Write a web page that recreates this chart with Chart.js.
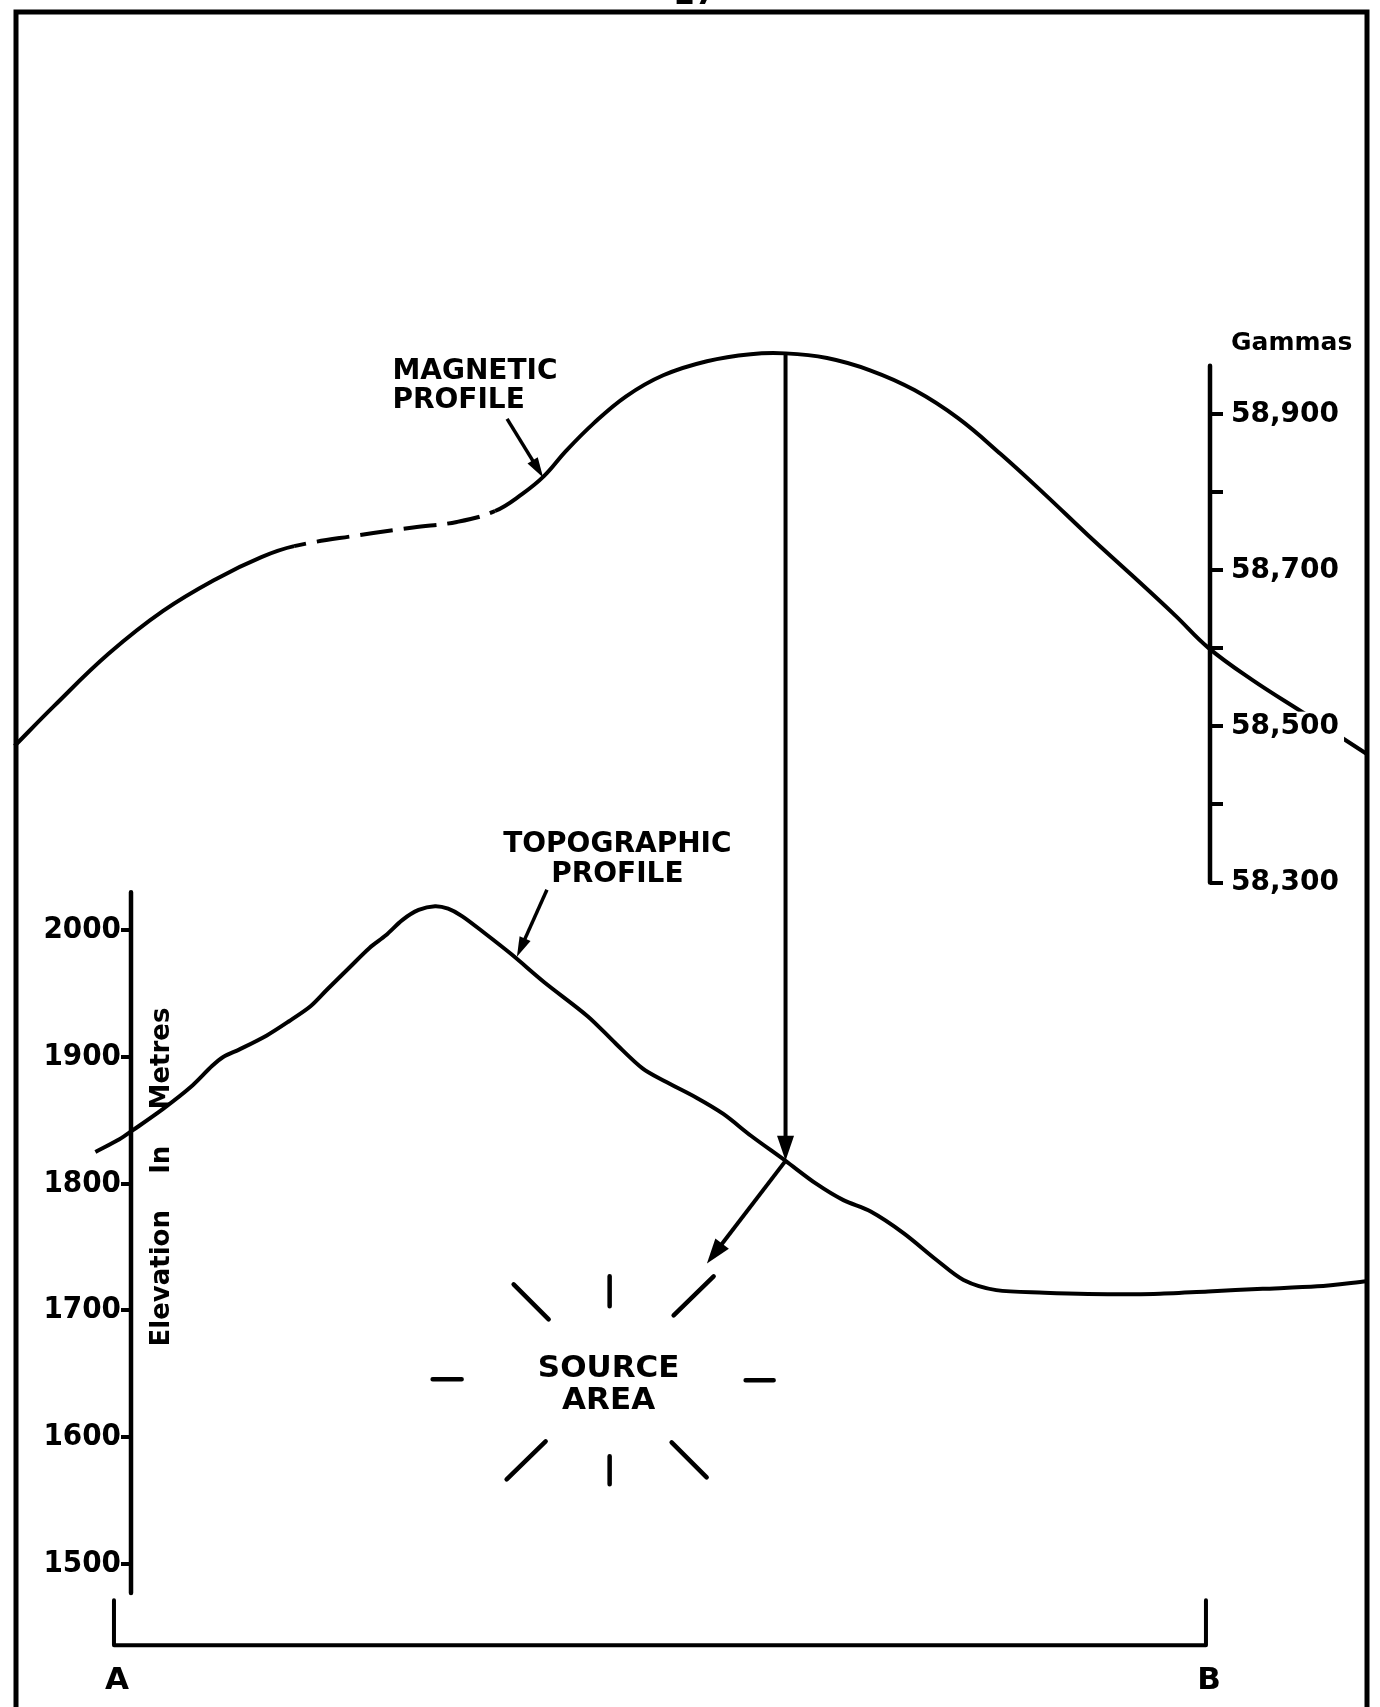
<!DOCTYPE html>
<html>
<head>
<meta charset="utf-8">
<title>Magnetic and topographic profile A-B</title>
<script src="https://cdn.jsdelivr.net/npm/chart.js@4.4.1/dist/chart.umd.min.js"></script>
<style>
  html, body { margin: 0; padding: 0; background: #fff; }
  #wrap { width: 1380px; height: 1707px; }
</style>
</head>
<body>
<div id="wrap"><canvas id="profile" width="1380" height="1707"></canvas></div>
<script>
// Distance along the section, A = 0, B = 100
const magDistance = [-9.1, -5.5, -0.5, 4.5, 9.5, 13.5, 16.5, 22.4, 27.4, 31.4, 34.9, 37.4, 39.4, 41.4, 43.9, 46.9,
  50.3, 54.3, 58.3, 61.5, 65.3, 69.3, 73.3, 77.3, 81.2, 85.2, 89.2, 93.2, 97.2, 100.2, 104.2, 109.2, 114.7];
const magGammas = [58475, 58526, 58593, 58648, 58690, 58717, 58731, 58745, 58755, 58762, 58776, 58798, 58821, 58853,
  58888, 58923, 58950, 58968, 58977, 58978, 58972, 58956, 58931, 58895, 58849, 58798, 58745, 58694, 58642, 58601,
  58560, 58515, 58465];
// stretch of the magnetic profile drawn dashed
const magDashed = [16.5, 34.9];

const topoDistance = [-1.7, 0.5, 1.7, 4.5, 7.0, 9.0, 10.0, 11.5, 14.0, 16.0, 18.0, 19.5, 21.5, 23.4, 24.9, 26.4,
  27.9, 29.4, 30.6, 31.9, 33.9, 36.4, 39.4, 43.4, 45.9, 48.4, 50.4, 53.3, 55.8, 58.3, 61.5, 64.3, 66.8, 69.3, 72.3,
  75.3, 77.8, 80.8, 85.2, 89.2, 95.2, 100.2, 105.2, 110.2, 114.7];
const topoElevation = [1825, 1835, 1842, 1859, 1876, 1893, 1900, 1906, 1917, 1928, 1940, 1953, 1970, 1986, 1996,
  2008, 2016, 2019, 2017, 2011, 1998, 1981, 1959, 1932, 1911, 1891, 1881, 1868, 1855, 1838, 1818, 1800, 1787, 1778,
  1761, 1740, 1724, 1716, 1714, 1713, 1713, 1715, 1717, 1719, 1723];

// Axes
const elevTicks = [1500, 1600, 1700, 1800, 1900, 2000];
const elevAxisSpan = [1477, 2030];
const gammaTicks = [58300, 58400, 58500, 58600, 58700, 58800, 58900];
const gammaLabels = [58300, 58500, 58700, 58900];
const gammaAxisSpan = [58300, 58962];
const sectionEnds = [0, 100];
const sectionNames = ['A', 'B'];

// Annotations (data coordinates)
const sourceArrowTip = { x: 54.3, elev: 1737 };
const sourceArea = { x: 45.3, elev: 1644 };
const magNote = { x: 25.5, gamma: 58945, lines: ['MAGNETIC', 'PROFILE'] };
const magPointer = { fromX: 36.0, fromGamma: 58894, toX: 39.3, toGamma: 58819 };
const topoNote = { x: 46.1, elev: 2062, lines: ['TOPOGRAPHIC', 'PROFILE'] };
const topoPointer = { fromX: 39.65, fromElev: 2032, toX: 36.9, toElev: 1979 };
const gammaTitle = { x: 102.3, gamma: 58982, text: 'Gammas' };
const elevTitle = 'Elevation    In    Metres';

const INK = '#000';
const BOLD = "'DejaVu Sans', sans-serif";
const NARROW = "'Liberation Sans Narrow', 'DejaVu Sans Condensed', sans-serif";

function topoAt(d) {
  for (let i = 1; i < topoDistance.length; i++) {
    if (d <= topoDistance[i]) {
      const t = (d - topoDistance[i - 1]) / (topoDistance[i] - topoDistance[i - 1]);
      return topoElevation[i - 1] + t * (topoElevation[i] - topoElevation[i - 1]);
    }
  }
  return topoElevation[topoElevation.length - 1];
}

// line with a filled head at (x2, y2)
function arrow(ctx, x1, y1, x2, y2, len, wid) {
  const a = Math.atan2(y2 - y1, x2 - x1);
  const bx = x2 - len * Math.cos(a);
  const by = y2 - len * Math.sin(a);
  ctx.beginPath();
  ctx.moveTo(x1, y1);
  ctx.lineTo(bx + Math.cos(a) * 2, by + Math.sin(a) * 2);
  ctx.stroke();
  ctx.beginPath();
  ctx.moveTo(x2, y2);
  ctx.lineTo(bx + (wid / 2) * Math.sin(a), by - (wid / 2) * Math.cos(a));
  ctx.lineTo(bx - (wid / 2) * Math.sin(a), by + (wid / 2) * Math.cos(a));
  ctx.closePath();
  ctx.fill();
}

const figurePlugin = {
  id: 'figure',
  beforeDraw(chart) {
    const { ctx, width, height } = chart;
    ctx.save();
    ctx.fillStyle = '#fff';
    ctx.fillRect(0, 0, width, height);
    ctx.restore();
  },
  afterDraw(chart) {
    const { ctx, chartArea, scales: { x, yElev, yGam } } = chart;
    const px = (v) => x.getPixelForValue(v);
    ctx.save();
    ctx.strokeStyle = INK;
    ctx.fillStyle = INK;
    ctx.lineCap = 'round';

    // page frame and page number
    ctx.lineWidth = 5;
    ctx.beginPath();
    ctx.moveTo(16, 1707);
    ctx.lineTo(16, 12);
    ctx.lineTo(1367, 12);
    ctx.lineTo(1367, 1707);
    ctx.stroke();
    ctx.font = `bold 30px ${BOLD}`;
    ctx.textAlign = 'center';
    ctx.textBaseline = 'alphabetic';
    ctx.fillText('27', 695, 4);

    // axis lines (only over their own span)
    ctx.lineWidth = 4.5;
    ctx.beginPath();
    ctx.moveTo(yElev.right, yElev.getPixelForValue(elevAxisSpan[1]));
    ctx.lineTo(yElev.right, yElev.getPixelForValue(elevAxisSpan[0]));
    ctx.moveTo(yGam.left, yGam.getPixelForValue(gammaAxisSpan[1]));
    ctx.lineTo(yGam.left, yGam.getPixelForValue(gammaAxisSpan[0]));
    ctx.stroke();

    // A - B bar
    const barY = chartArea.bottom - 37;
    ctx.lineWidth = 4;
    ctx.beginPath();
    ctx.moveTo(px(sectionEnds[0]), barY);
    ctx.lineTo(px(sectionEnds[1]), barY);
    sectionEnds.forEach((d) => {
      ctx.moveTo(px(d), barY);
      ctx.lineTo(px(d), barY - 45);
    });
    ctx.stroke();
    ctx.font = `bold 31px ${BOLD}`;
    sectionEnds.forEach((d, i) => ctx.fillText(sectionNames[i], px(d) + 3, barY + 44));

    // axis titles
    ctx.font = `bold 25px ${BOLD}`;
    ctx.textAlign = 'left';
    ctx.fillText(gammaTitle.text, px(gammaTitle.x), yGam.getPixelForValue(gammaTitle.gamma));
    ctx.save();
    ctx.translate(yElev.right + 38, (yElev.getPixelForValue(1800) + yElev.getPixelForValue(1700)) / 2 - 70);
    ctx.rotate(-Math.PI / 2);
    ctx.font = `bold 26px ${BOLD}`;
    ctx.textAlign = 'center';
    ctx.fillText(elevTitle, 0, 0);
    ctx.restore();

    // profile labels
    ctx.font = `bold 28px ${BOLD}`;
    ctx.textAlign = 'left';
    magNote.lines.forEach((t, i) =>
      ctx.fillText(t, px(magNote.x), yGam.getPixelForValue(magNote.gamma) + i * 29));
    ctx.textAlign = 'center';
    topoNote.lines.forEach((t, i) =>
      ctx.fillText(t, px(topoNote.x), yElev.getPixelForValue(topoNote.elev) + i * 30));

    ctx.lineWidth = 3.5;
    ctx.lineCap = 'butt';
    arrow(ctx, px(magPointer.fromX), yGam.getPixelForValue(magPointer.fromGamma),
      px(magPointer.toX), yGam.getPixelForValue(magPointer.toGamma), 20, 12);
    arrow(ctx, px(topoPointer.fromX), yElev.getPixelForValue(topoPointer.fromElev),
      px(topoPointer.toX), yElev.getPixelForValue(topoPointer.toElev), 20, 12);

    // peak of the magnetic profile projected down to the surface, then to the source
    const peak = magGammas.indexOf(Math.max(...magGammas));
    const peakX = px(magDistance[peak]);
    const hitY = yElev.getPixelForValue(topoAt(magDistance[peak]));
    ctx.lineWidth = 4;
    arrow(ctx, peakX, yGam.getPixelForValue(magGammas[peak]), peakX, hitY, 25, 17);
    arrow(ctx, peakX, hitY, px(sourceArrowTip.x), yElev.getPixelForValue(sourceArrowTip.elev), 25, 17);

    // source area
    const cx = px(sourceArea.x);
    const cy = yElev.getPixelForValue(sourceArea.elev);
    ctx.font = `bold 31px ${BOLD}`;
    ctx.fillText('SOURCE', cx, cy - 4);
    ctx.fillText('AREA', cx, cy + 28);
    const rays = [[1, -105, 1, -75], [1, 75, 1, 103], [-176, -2, -147, -2], [137, -1, 165, -1],
      [-95, -97, -60, -62], [105, -105, 65, -66], [-63, 60, -102, 98], [63, 61, 98, 96]];
    ctx.lineWidth = 4.5;
    ctx.lineCap = 'round';
    ctx.beginPath();
    rays.forEach(([a, b, c, d]) => {
      ctx.moveTo(cx + a, cy + b);
      ctx.lineTo(cx + c, cy + d);
    });
    ctx.stroke();
    ctx.restore();
  }
};

const inDashed = (c) => c.p0.parsed.x >= magDashed[0] && c.p1.parsed.x <= magDashed[1];

const ctx = document.getElementById('profile').getContext('2d');
new Chart(ctx, {
  type: 'line',
  data: {
    datasets: [
      {
        label: 'Magnetic profile',
        data: magDistance.map((d, i) => ({ x: d, y: magGammas[i] })),
        yAxisID: 'yGam',
        borderColor: INK,
        borderWidth: 4,
        pointRadius: 0,
        tension: 0.4,
        clip: false,
        segment: {
          borderDash: (c) => (inDashed(c) ? [33, 11] : undefined),
          borderDashOffset: (c) => (inDashed(c) ? 21 : undefined)
        }
      },
      {
        label: 'Topographic profile',
        data: topoDistance.map((d, i) => ({ x: d, y: topoElevation[i] })),
        yAxisID: 'yElev',
        borderColor: INK,
        borderWidth: 4,
        pointRadius: 0,
        tension: 0.3,
        clip: false
      }
    ]
  },
  options: {
    responsive: false,
    animation: false,
    devicePixelRatio: 1,
    layout: { padding: { top: 20, bottom: 20, left: 0, right: 0 }, autoPadding: false },
    plugins: { legend: { display: false }, tooltip: { enabled: false } },
    scales: {
      // range set after data limits so the profiles keep their ends beyond the axes
      x: {
        type: 'linear',
        display: false,
        bounds: 'data',
        afterDataLimits: (s) => { s.min = 1.56; s.max = 100.37; }
      },
      yElev: {
        type: 'linear',
        position: 'left',
        min: 1406.6,
        max: 2714.5,
        afterBuildTicks: (s) => { s.ticks = elevTicks.map((v) => ({ value: v })); },
        afterFit: (s) => { s.width = 131; },
        border: { display: false },
        grid: { drawOnChartArea: false, drawTicks: true, tickLength: 10, lineWidth: 4, color: INK },
        ticks: {
          color: INK,
          padding: 0,
          font: { family: NARROW, weight: 'bold', size: 31 },
          callback: (v) => String(v)
        }
      },
      yGam: {
        type: 'linear',
        position: 'right',
        min: 57275.4,
        max: 59399,
        afterBuildTicks: (s) => { s.ticks = gammaTicks.map((v) => ({ value: v })); },
        afterFit: (s) => { s.width = 170; },
        border: { display: false },
        grid: { drawOnChartArea: false, drawTicks: true, tickLength: 13, lineWidth: 4, color: INK },
        ticks: {
          z: 1,
          color: INK,
          padding: 8,
          font: { family: BOLD, weight: 'bold', size: 28 },
          // white box behind the labelled values, where the profile runs into them
          showLabelBackdrop: (c) => gammaLabels.includes(c.tick.value),
          backdropColor: '#fff',
          backdropPadding: { top: -2, bottom: 0, left: 0, right: 5 },
          callback: (v) => (gammaLabels.includes(v) ? v.toLocaleString('en-US') : '')
        }
      }
    }
  },
  plugins: [figurePlugin]
});
</script>
</body>
</html>
